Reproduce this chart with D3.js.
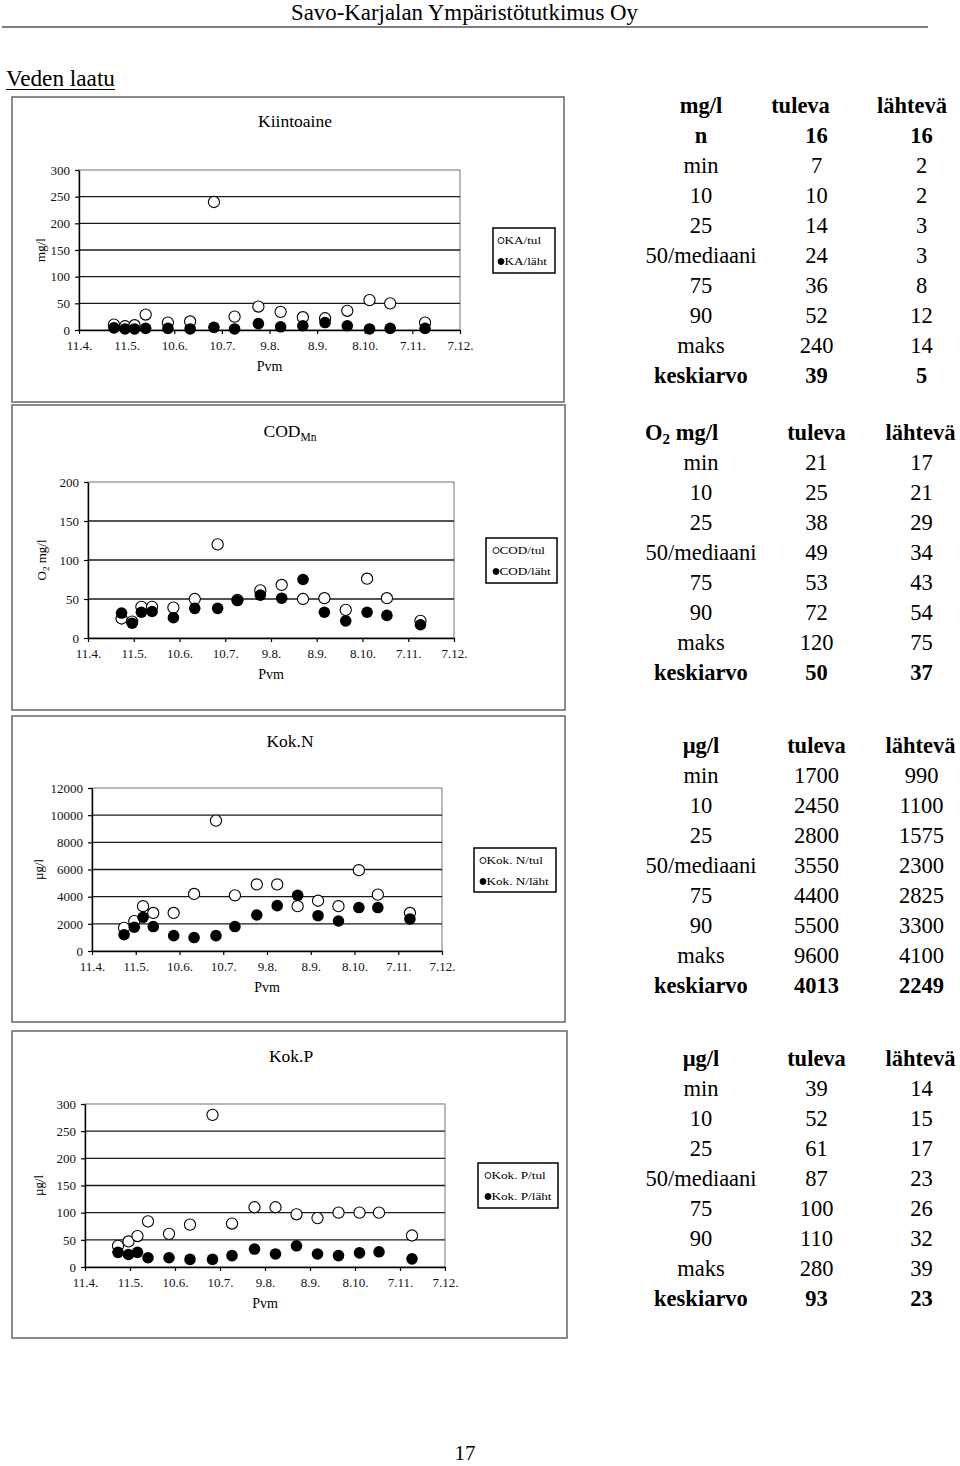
<!DOCTYPE html>
<html><head><meta charset="utf-8">
<script src="https://cdn.jsdelivr.net/npm/d3@7"></script>
<style>
body{margin:0;background:#fff;}
svg{display:block;font-family:"Liberation Serif","Times New Roman",serif;}
</style>
</head><body>
<svg id="page" width="960" height="1466"></svg>
<script>
// ---------- data ----------
const sampleDates = ["3.5.2011","10.5.2011","16.5.2011","23.5.2011","6.6.2011","20.6.2011","5.7.2011","18.7.2011",
  "2.8.2011","16.8.2011","30.8.2011","13.9.2011","27.9.2011","11.10.2011","24.10.2011","15.11.2011"];
const xTickDates = ["11.4.2011","11.5.2011","10.6.2011","10.7.2011","9.8.2011","8.9.2011","8.10.2011","7.11.2011","7.12.2011"];

const kaTul   = [10, 7, 9, 29, 14, 16, 240, 25, 44, 34, 24, 22, 36, 56, 50, 14];
const kaLaht  = [4, 2, 2, 3, 3, 2, 5, 2, 12, 6, 8, 14, 8, 2, 3, 3];
const codTul  = [25, 21, 40, 40, 39, 50, 120, 49, 61, 68, 50, 51, 36, 76, 51, 22];
const codLaht = [32, 19, 33, 34, 26, 38, 38, 48, 55, 51, 75, 33, 22, 33, 29, 17];
const nTul    = [1700, 2200, 3300, 2800, 2800, 4200, 9600, 4100, 4900, 4900, 3300, 3700, 3300, 5950, 4150, 2800];
const nLaht   = [1200, 1750, 2480, 1800, 1130, 990, 1130, 1800, 2650, 3340, 4100, 2600, 2210, 3200, 3200, 2360];
const pTul    = [39, 47, 57, 84, 61, 78, 280, 80, 110, 110, 97, 90, 100, 100, 100, 58];
const pLaht   = [27, 23, 27, 17, 17, 14, 14, 21, 33, 24, 39, 24, 21, 26, 28, 15];

const kaYTicks  = [0, 50, 100, 150, 200, 250, 300];
const codYTicks = [0, 50, 100, 150, 200];
const nYTicks   = [0, 2000, 4000, 6000, 8000, 10000, 12000];
const pYTicks   = [0, 50, 100, 150, 200, 250, 300];

const statLabels  = ["min", "10", "25", "50/mediaani", "75", "90", "maks", "keskiarvo"];
const kaStatN     = [16, 16];
const kaStatTul   = [7, 10, 14, 24, 36, 52, 240, 39];
const kaStatLaht  = [2, 2, 3, 3, 8, 12, 14, 5];
const codStatTul  = [21, 25, 38, 49, 53, 72, 120, 50];
const codStatLaht = [17, 21, 29, 34, 43, 54, 75, 37];
const nStatTul    = [1700, 2450, 2800, 3550, 4400, 5500, 9600, 4013];
const nStatLaht   = [990, 1100, 1575, 2300, 2825, 3300, 4100, 2249];
const pStatTul    = [39, 52, 61, 87, 100, 110, 280, 93];
const pStatLaht   = [14, 15, 17, 23, 26, 32, 39, 23];

// ---------- page ----------
const svg = d3.select("#page");
const parse = d3.timeParse("%d.%m.%Y");
const dates = sampleDates.map(parse);
const xTicks = xTickDates.map(parse);

svg.append("text").attr("x", 464.5).attr("y", 20).attr("text-anchor", "middle")
  .attr("font-size", 23).attr("textLength", 347).attr("lengthAdjust", "spacingAndGlyphs")
  .text("Savo-Karjalan Ympäristötutkimus Oy");
svg.append("line").attr("x1", 2).attr("x2", 928).attr("y1", 27).attr("y2", 27)
  .attr("stroke", "#000").attr("stroke-width", 1.2);

svg.append("text").attr("x", 6).attr("y", 86).attr("font-size", 22.5)
  .attr("textLength", 109).attr("lengthAdjust", "spacingAndGlyphs").text("Veden laatu");
svg.append("line").attr("x1", 6).attr("x2", 115).attr("y1", 89.5).attr("y2", 89.5)
  .attr("stroke", "#000").attr("stroke-width", 1.2);

svg.append("text").attr("x", 465).attr("y", 1460).attr("text-anchor", "middle")
  .attr("font-size", 21).text("17");

// ---------- charts ----------
function drawChart(cfg) {
  const g = svg.append("g");
  const b = cfg.box, p = cfg.plot;
  g.append("rect").attr("x", b.x).attr("y", b.y).attr("width", b.w).attr("height", b.h)
    .attr("fill", "#fff").attr("stroke", "#6e6e6e").attr("stroke-width", 1.6);

  const x = d3.scaleTime().domain([xTicks[0], xTicks[xTicks.length - 1]]).range([p.l, p.r]);
  const y = d3.scaleLinear().domain([0, cfg.yTicks[cfg.yTicks.length - 1]]).range([p.b, p.t]);

  // frame
  g.append("rect").attr("x", p.l).attr("y", p.t).attr("width", p.r - p.l).attr("height", p.b - p.t)
    .attr("fill", "none").attr("stroke", "#8a8a8a").attr("stroke-width", 1.2);
  // gridlines
  g.selectAll(".grid").data(cfg.yTicks.slice(1, -1)).join("line")
    .attr("x1", p.l).attr("x2", p.r).attr("y1", d => y(d)).attr("y2", d => y(d))
    .attr("stroke", "#1a1a1a").attr("stroke-width", 1.4);

  const ya = g.append("g").attr("transform", `translate(${p.l},0)`)
    .call(d3.axisLeft(y).tickValues(cfg.yTicks).tickFormat(d3.format("d"))
      .tickSize(4).tickSizeOuter(0).tickPadding(5));
  const xa = g.append("g").attr("transform", `translate(0,${p.b})`)
    .call(d3.axisBottom(x).tickValues(xTicks).tickFormat(d3.timeFormat("%-d.%-m."))
      .tickSize(4).tickSizeOuter(0).tickPadding(4));
  [ya, xa].forEach(a => {
    a.attr("font-family", null).attr("font-size", null);
    a.selectAll("text").attr("font-size", 13).attr("fill", "#111");
    a.select(".domain").attr("stroke", "#000").attr("stroke-width", 1.4);
    a.selectAll(".tick line").attr("stroke", "#000").attr("stroke-width", 1.2);
  });
  xa.selectAll("text").attr("dy", "0.9em");

  // titles
  const t = g.append("text").attr("x", cfg.titleX).attr("y", cfg.titleY).attr("text-anchor", "middle")
    .attr("font-size", 17.5);
  t.append("tspan").text(cfg.title);
  if (cfg.titleSub) t.append("tspan").attr("font-size", 11.5).attr("dy", 4).text(cfg.titleSub);

  const yl = g.append("text").attr("transform", `translate(${cfg.yLabelX},${(p.t + p.b) / 2}) rotate(-90)`)
    .attr("text-anchor", "middle").attr("font-size", 13);
  cfg.yLabel.forEach(s => {
    const ts = yl.append("tspan").text(s.t);
    if (s.sub) ts.attr("font-size", 9).attr("dy", 3);
    if (s.after) ts.attr("dy", -3);
  });

  g.append("text").attr("x", (p.l + p.r) / 2).attr("y", p.b + 41).attr("text-anchor", "middle")
    .attr("font-size", 14).text("Pvm");

  // points
  const pts = dates.map((d, i) => ({d, tul: cfg.tul[i], laht: cfg.laht[i]}));
  g.append("g").selectAll("circle").data(pts).join("circle")
    .attr("cx", d => x(d.d)).attr("cy", d => y(d.tul)).attr("r", 5.6)
    .attr("fill", "#fff").attr("stroke", "#000").attr("stroke-width", 1.1);
  g.append("g").selectAll("circle").data(pts).join("circle")
    .attr("cx", d => x(d.d)).attr("cy", d => y(d.laht)).attr("r", 5.8)
    .attr("fill", "#000");

  // legend
  const L = cfg.legend;
  const lg = g.append("g").attr("transform", `translate(${L.x},${L.y})`);
  lg.append("rect").attr("width", L.w).attr("height", L.h).attr("fill", "#fff")
    .attr("stroke", "#000").attr("stroke-width", 1.5);
  cfg.legendLabels.forEach((lab, i) => {
    const cy = i === 0 ? 12.5 : 33.5;
    lg.append("circle").attr("cx", L.mx).attr("cy", cy).attr("r", 3)
      .attr("fill", i === 0 ? "#fff" : "#000").attr("stroke", "#000").attr("stroke-width", 0.9);
    lg.append("text").attr("transform", `translate(${L.mx + 3.5},${cy + 3.8}) scale(1.2,1)`)
      .attr("font-size", 11).text(lab);
  });
}

drawChart({
  box: {x: 12, y: 97, w: 552, h: 305}, plot: {l: 79, t: 170, r: 460, b: 330},
  yTicks: kaYTicks, tul: kaTul, laht: kaLaht,
  title: "Kiintoaine", titleX: 295, titleY: 127,
  yLabel: [{t: "mg/l"}], yLabelX: 45,
  legend: {x: 493, y: 228, w: 62, h: 45, mx: 8}, legendLabels: ["KA/tul", "KA/läht"]
});
drawChart({
  box: {x: 12, y: 405, w: 553, h: 305}, plot: {l: 88, t: 482, r: 454, b: 638},
  yTicks: codYTicks, tul: codTul, laht: codLaht,
  title: "COD", titleSub: "Mn", titleX: 290, titleY: 437,
  yLabel: [{t: "O"}, {t: "2", sub: true}, {t: " mg/l", after: true}], yLabelX: 46,
  legend: {x: 486, y: 538, w: 71, h: 45, mx: 10}, legendLabels: ["COD/tul", "COD/läht"]
});
drawChart({
  box: {x: 12, y: 716, w: 553, h: 306}, plot: {l: 92, t: 788, r: 442, b: 951},
  yTicks: nYTicks, tul: nTul, laht: nLaht,
  title: "Kok.N", titleX: 290, titleY: 747,
  yLabel: [{t: "µg/l"}], yLabelX: 43,
  legend: {x: 474, y: 848, w: 82, h: 44, mx: 9}, legendLabels: ["Kok. N/tul", "Kok. N/läht"]
});
drawChart({
  box: {x: 12, y: 1031, w: 555, h: 307}, plot: {l: 85, t: 1104, r: 445, b: 1267},
  yTicks: pYTicks, tul: pTul, laht: pLaht,
  title: "Kok.P", titleX: 291, titleY: 1062,
  yLabel: [{t: "µg/l"}], yLabelX: 43,
  legend: {x: 478, y: 1163, w: 80, h: 45, mx: 10}, legendLabels: ["Kok. P/tul", "Kok. P/läht"]
});

// ---------- tables ----------
function drawTable(cfg) {
  const g = svg.append("g").attr("font-size", 22.5);
  const y0 = cfg.y0;
  const h = g.append("text").attr("font-weight", "bold").attr("y", y0);
  if (cfg.headLeft != null) h.attr("x", cfg.headLeft).attr("text-anchor", "start");
  else h.attr("x", 701).attr("text-anchor", "middle");
  cfg.head.forEach(s => {
    const ts = h.append("tspan").text(s.t);
    if (s.sub) ts.attr("font-size", 15).attr("dy", 4);
    if (s.after) ts.attr("dy", -4);
  });
  g.append("text").attr("font-weight", "bold").attr("x", cfg.tulX).attr("y", y0)
    .attr("text-anchor", "middle").text("tuleva");
  g.append("text").attr("font-weight", "bold").attr("x", cfg.lahtX).attr("y", y0)
    .attr("text-anchor", "middle").text("lähtevä");

  let rows = statLabels.map((l, i) => ({l, a: cfg.tul[i], b: cfg.laht[i], bold: l === "keskiarvo"}));
  if (cfg.n) rows = [{l: "n", a: cfg.n[0], b: cfg.n[1], bold: true}].concat(rows);
  rows.forEach((r, i) => {
    const yy = y0 + 30 * (i + 1);
    const w = r.bold ? "bold" : "normal";
    g.append("text").attr("x", 701).attr("y", yy).attr("text-anchor", "middle").attr("font-weight", w).text(r.l);
    g.append("text").attr("x", 816.5).attr("y", yy).attr("text-anchor", "middle").attr("font-weight", w).text(r.a);
    g.append("text").attr("x", 921.5).attr("y", yy).attr("text-anchor", "middle").attr("font-weight", w).text(r.b);
  });
}

drawTable({y0: 113, head: [{t: "mg/l"}], tulX: 800.5, lahtX: 912, n: kaStatN, tul: kaStatTul, laht: kaStatLaht});
drawTable({y0: 440, head: [{t: "O"}, {t: "2", sub: true}, {t: " mg/l", after: true}], headLeft: 645,
  tulX: 816.5, lahtX: 920.5, tul: codStatTul, laht: codStatLaht});
drawTable({y0: 753, head: [{t: "µg/l"}], tulX: 816.5, lahtX: 920.5, tul: nStatTul, laht: nStatLaht});
drawTable({y0: 1066, head: [{t: "µg/l"}], tulX: 816.5, lahtX: 920.5, tul: pStatTul, laht: pStatLaht});
</script>
</body></html>
